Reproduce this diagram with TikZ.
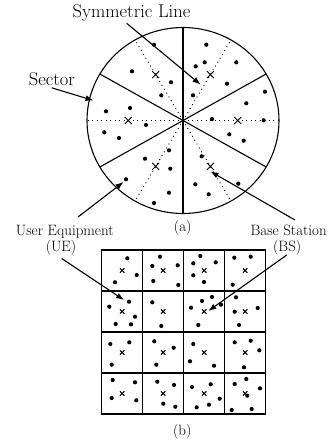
\documentclass[tikz,border=0pt]{standalone}
\usetikzlibrary{arrows.meta,calc}
\begin{document}
\begin{tikzpicture}[x=1pt,y=-1pt,
  outline/.style={line width=1.1pt},
  symline/.style={dash pattern=on 0.9pt off 3.6pt,line width=0.9pt},
  arr/.style={line width=1.1pt,-{Latex[length=8pt,width=6pt]}},
  biglabel/.style={font=\fontsize{18.5}{20}\selectfont,inner sep=0pt,anchor=base},
  smalllabel/.style={font=\fontsize{15}{17}\selectfont,inner sep=0pt,anchor=base},
  bsbig/.pic={\draw[line width=0.9pt] (-3.5,-3.5)--(3.5,3.5) (-3.5,3.5)--(3.5,-3.5);},
  bssmall/.pic={\draw[line width=1pt] (-2.2,-2.2)--(2.2,2.2) (-2.2,2.2)--(2.2,-2.2);}
]
\useasboundingbox (0,0) rectangle (331,440);

% ---------- (a) circular cell ----------
\coordinate (c) at (183,120.5);
\draw[outline] (c) ellipse [x radius=96pt, y radius=93pt];
\foreach \a in {30,90,150,210,270,330}
  \draw[outline] (c) -- ($(c)+({96*cos(\a)},{93*sin(\a)})$);
\foreach \a in {0,60,120,180,240,300}{
  \draw[symline] (c) -- ($(c)+({96*cos(\a)},{93*sin(\a)})$);
  \pic at ($(c)+({0.57*96*cos(\a)},{0.57*93*sin(\a)})$) {bsbig};
}
\foreach \x/\y in {206.3/44.7,204.7/62.3,195.7/66.3,236.3/62.3,227/83.7,193/95.3,
  154/44.7,132/71.3,171/82.3,161.3/95.3,
  106/111.3,130/108,146/125,104.3/132.3,119/138,
  265/91.7,246.3/103.3,212/119,263.7/120.3,229.3/134.3,243.7/140.7,
  145/158.7,169/150.3,170.3/168.7,126/179.3,169/192.7,154/203,
  201.7/156.3,238.3/183.7,195.3/184.3,208.7/194.3}
  \fill (\x,\y) circle (2.1pt);

% labels and arrows for (a)
\node[biglabel] (symlabel) at (131.5,17.3) {Symmetric Line};
\coordinate (symstart) at (126.7,23.3);
\coordinate (symtip) at (200.5,84.5);
\draw[arr] (symstart) -- (symtip);

\node[biglabel] (seclabel) at (52,85) {Sector};
\coordinate (secstart) at (51.7,87.8);
\coordinate (sectip) at (93.5,100.5);
\draw[arr] (secstart) -- (sectip);

\node[smalllabel] (uelabel) at (64.8,235.7) {User Equipment};
\node[smalllabel] (uelabel2) at (61,251) {(UE)};
\node[smalllabel] (bslabel) at (288.7,235.7) {Base Station};
\node[smalllabel] (bslabel2) at (287.2,251) {(BS)};

\coordinate (uestartA) at (78,217);
\coordinate (uetipA) at (123.5,182);
\draw[arr] (uestartA) -- (uetipA);
\coordinate (bsstartA) at (295,220);
\coordinate (bstipA) at (210.5,171.5);
\draw[arr] (bsstartA) -- (bstipA);

\node[smalllabel] (alabel) at (182.7,231) {(a)};

% ---------- (b) square grid ----------
\draw[line width=1.3pt] (101.7,250) rectangle (265.7,414);
\foreach \i in {1,2,3}{
  \draw[line width=1.3pt] (101.7+41*\i,250) -- (101.7+41*\i,414);
  \draw[line width=1.3pt] (101.7,250+41*\i) -- (265.7,250+41*\i);
}
\foreach \i in {0,1,2,3}
  \foreach \j in {0,1,2,3}
    \pic at (122.2+41*\i,270.5+41*\j) {bssmall};
\foreach \x/\y in {127.3/258.3,136.7/275,115/282.3,
  160/256.7,152.3/266,177.7/265.3,153.3/281,178.3/285,
  200.3/256,193.3/263.3,215.7/262.3,193.3/275.3,204/282,
  234.3/257.7,250.7/256.7,232.7/284.7,
  129/301.7,109.3/306.7,135/316.7,115.7/324,131/324.3,
  152.3/302.3,161.3/326,
  202/301,212/297,191/307.7,221/304.7,198.3/325,
  236/297.3,234.7/311.7,257.7/308,239/325,
  110.3/344,129.3/342.3,111.7/364.7,
  154.3/341.3,173.7/347.7,156.3/364.7,
  193.3/344,190/361.3,214/365.7,
  234.7/342.3,250.7/340.7,259.3/350.3,244/367.3,
  112.7/380,135/382.3,111.7/398,136.3/400.3,
  157.3/381.7,174/385,163.3/403.7,175.3/406.7,
  210.7/384.3,192/387,219.7/398.7,196.7/407.3,209/404.7,
  246.3/379,234.7/384,260/388.3,247.3/395.7,231.7/410,251.7/409}
  \fill (\x,\y) circle (2.1pt);

\coordinate (uestartB) at (61.7,258.5);
\coordinate (uetipB) at (124,300);
\draw[arr] (uestartB) -- (uetipB);
\coordinate (bsstartB) at (286.7,255);
\coordinate (bstipB) at (208.3,311);
\draw[arr] (bsstartB) -- (bstipB);

\node[smalllabel] (blabel) at (182.3,435) {(b)};
\end{tikzpicture}
\end{document}
